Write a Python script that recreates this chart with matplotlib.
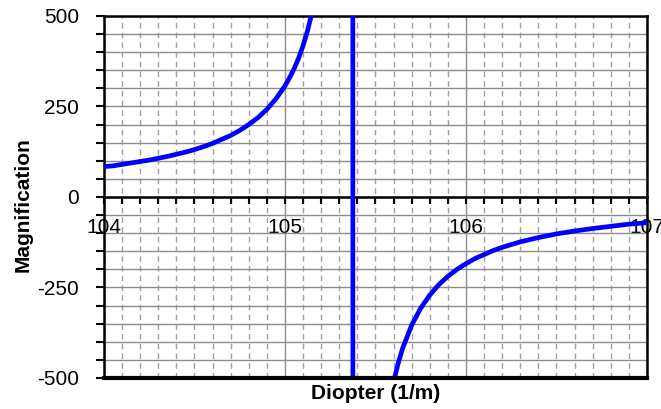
import matplotlib.pyplot as plt
import numpy as np
from matplotlib.ticker import MultipleLocator

plt.rcParams['font.family'] = ['Liberation Sans', 'DejaVu Sans']

# Magnification vs diopter (the jump across the asymptote
# is drawn as one near-vertical segment, as Excel does)
diopter = [104.0, 104.05, 104.1, 104.15, 104.2, 104.25, 104.3, 104.35, 104.4,
           104.45, 104.5, 104.55, 104.6, 104.65, 104.7, 104.75, 104.8, 104.85,
           104.9, 104.95, 105.0, 105.025, 105.05, 105.075, 105.1, 105.125,
           105.15, 105.2, 105.37,
           105.38, 105.55, 105.575, 105.6, 105.625, 105.65, 105.7, 105.75,
           105.8, 105.85, 105.9, 105.95, 106.0, 106.05, 106.1, 106.15, 106.2,
           106.3, 106.4, 106.5, 106.6, 106.7, 106.8, 106.9, 107.0]
magnification = [84, 86, 90, 94, 98, 102, 107, 112, 118,
                 124, 131, 139, 148, 159, 170, 184, 200, 219,
                 242, 271, 307, 329, 354, 383, 418, 460,
                 511, 657, 23000,
                 -23000, -657, -575, -511, -460, -418, -354, -307,
                 -271, -242, -219, -200, -184, -170, -159, -148, -139,
                 -124, -112, -102, -94, -87, -81, -75, -71]

x_ticks = [104, 105, 106, 107]
y_ticks = [-500, -250, 0, 250, 500]

fig = plt.figure(figsize=(6.61, 4.09), dpi=100)
ax = fig.add_axes([0.1573, 0.0758, 0.8215, 0.8851])

ax.set_xlim(104, 107)
ax.set_ylim(-500, 500)

# grid: horizontal every 50 solid, vertical integers solid, tenths dashed
ax.xaxis.set_major_locator(MultipleLocator(1))
ax.xaxis.set_minor_locator(MultipleLocator(0.1))
ax.yaxis.set_major_locator(MultipleLocator(250))
ax.yaxis.set_minor_locator(MultipleLocator(50))
ax.grid(which='major', axis='x', color='#8c8c8c', lw=1.0, ls='-')
ax.grid(which='minor', axis='x', color='#a0a0a0', lw=1.0, ls=(0, (4, 3)))
ax.grid(which='both', axis='y', color='#8c8c8c', lw=1.0, ls='-')
ax.set_axisbelow(True)

ax.plot(diopter, magnification, color='#0000ff', lw=3.4, zorder=3,
        solid_joinstyle='round')

# x axis sits on y = 0, frame kept around the plot area
ax.spines['bottom'].set_position(('data', 0))
for s in ax.spines.values():
    s.set_linewidth(1.8)
    s.set_color('black')
ax.axhline(-500, color='black', lw=3.0, clip_on=False, zorder=4)

ax.set_xticks(x_ticks)
ax.set_yticks(y_ticks)
ax.set_xticklabels([str(v) for v in x_ticks])
ax.set_yticklabels([str(v) for v in y_ticks])
ax.tick_params(axis='x', which='both', direction='out', length=5, width=1.5,
               top=False, labelsize=15, pad=10)
ax.tick_params(axis='y', which='both', direction='out', length=6, width=1.5,
               right=False, labelsize=15, pad=12)

fig.text(0.0355, 0.5, 'Magnification', rotation=90, fontsize=15,
         fontweight='bold', ha='center', va='center')
fig.text(0.569, 0.039, 'Diopter (1/m)', fontsize=15, fontweight='bold',
         ha='center', va='center')

fig.savefig('out.png', dpi=100)
